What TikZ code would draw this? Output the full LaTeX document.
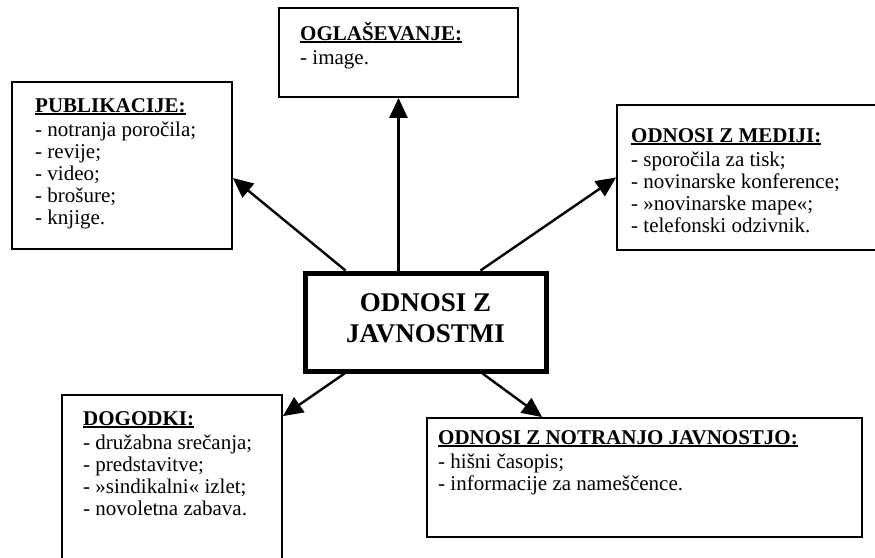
\documentclass[tikz,border=0pt]{standalone}
\usepackage{fontspec}
\setmainfont{Liberation Serif}
\usetikzlibrary{arrows.meta}
% underlined heading with a fixed rule position and thickness
\newcommand\titleul[1]{\setbox0\hbox{#1}\rlap{\rule[-3pt]{\wd0}{1.6pt}}\box0}
\tikzset{
  card/.style={draw, line width=1.8pt, inner sep=0pt},
  hub/.style={draw, line width=5pt, inner sep=0pt},
  listtext/.style={anchor=base west, inner sep=0pt, font=\fontsize{21}{22}\selectfont},
  hubtext/.style={inner sep=0pt, align=center, font=\fontsize{27}{31}\selectfont\bfseries},
  link/.style={line width=2.4pt, -{Triangle[length=20pt,width=18pt]}},
}
\begin{document}
\begin{tikzpicture}[x=1pt,y=-1pt]
\useasboundingbox (0,0) rectangle (875,557);
\clip (0,0) rectangle (875,557);

% boxes
\node[hub,  minimum width=241pt, minimum height=98pt]  (hub)  at (425.5,322)   {};
\node[card, minimum width=239pt, minimum height=89pt]  (ogl)  at (398.5,52.5)  {};
\node[card, minimum width=220pt, minimum height=167pt] (pub)  at (122,165.5)   {};
\node[card, minimum width=263pt, minimum height=145pt] (med)  at (748.5,177.5) {};
\node[card, minimum width=220pt, minimum height=205pt] (dog)  at (172,497.5)   {};
\node[card, minimum width=435pt, minimum height=119pt] (notr) at (644.5,477.5) {};

% central label
\node[hubtext] (hubt) at ([yshift=3.5pt]hub.center) {ODNOSI Z\\JAVNOSTMI};

% box contents
\node[listtext] (oglt) at (300,40) {\begin{tabular}[t]{@{}l@{}}%
  \textbf{\titleul{OGLAŠEVANJE:}}\\[2pt]
  - image.\end{tabular}};
\node[listtext] (pubt) at (35,112) {\begin{tabular}[t]{@{}l@{}}%
  \textbf{\titleul{PUBLIKACIJE:}}\\[2pt]
  - notranja poročila;\\
  - revije;\\
  - video;\\
  - brošure;\\
  - knjige.\end{tabular}};
\node[listtext] (medt) at (631,142) {\begin{tabular}[t]{@{}l@{}}%
  \textbf{\titleul{ODNOSI Z MEDIJI:}}\\[2pt]
  - sporočila za tisk;\\
  - novinarske konference;\\
  - »novinarske mape«;\\
  - telefonski odzivnik.\end{tabular}};
\node[listtext] (dogt) at (83,425) {\begin{tabular}[t]{@{}l@{}}%
  \textbf{\titleul{DOGODKI:}}\\[2pt]
  - družabna srečanja;\\
  - predstavitve;\\
  - »sindikalni« izlet;\\
  - novoletna zabava.\end{tabular}};
\node[listtext] (notrt) at (438,444) {\begin{tabular}[t]{@{}l@{}}%
  \textbf{\titleul{ODNOSI Z NOTRANJO JAVNOSTJO:}}\\[2pt]
  - hišni časopis;\\
  - informacije za nameščence.\end{tabular}};

% connectors
\draw[link] (hub.north -| ogl.south) -- (ogl.south);
\draw[link] ([xshift=43pt]hub.north west) -- ([yshift=-12.5pt]pub.east);
\draw[link] ([xshift=-68pt]hub.north east) -- (med.west);
\draw[link] ([xshift=42pt]hub.south west) -- ([yshift=-22pt]dog.north east);
\draw[link] ([xshift=-66pt]hub.south east) -- ([xshift=116pt]notr.north west);
\end{tikzpicture}
\end{document}
